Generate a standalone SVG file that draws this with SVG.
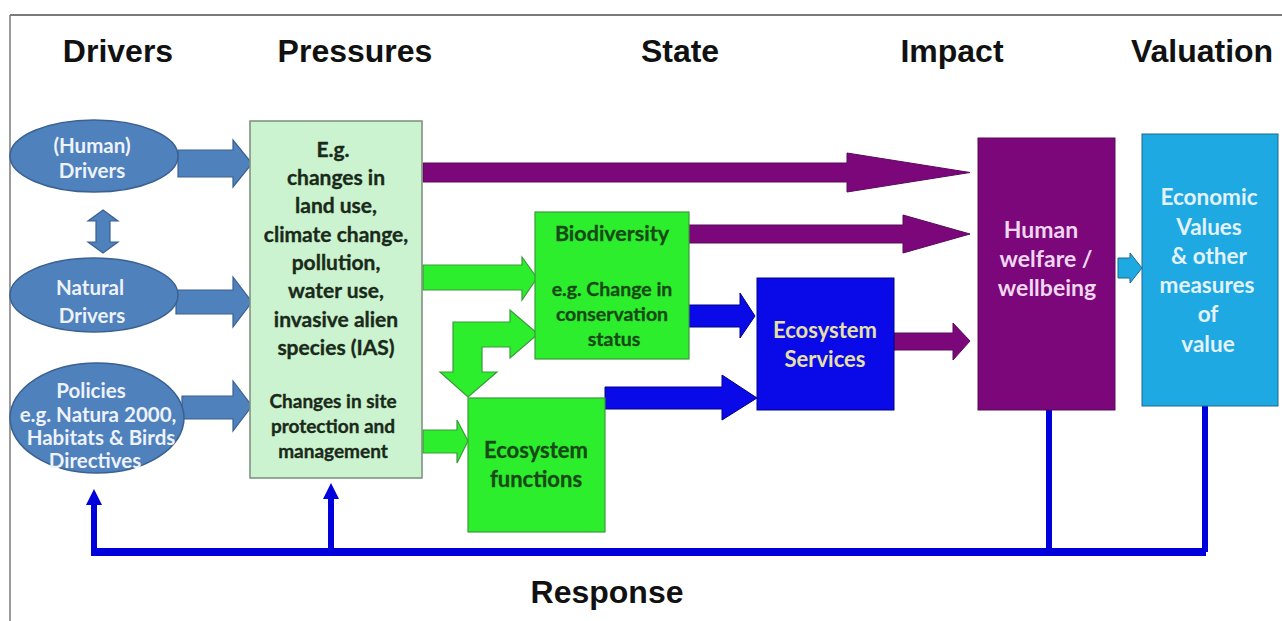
<svg xmlns="http://www.w3.org/2000/svg" width="1282" height="621" viewBox="0 0 1282 621">
<style>
.hdr{font-family:"Liberation Sans",Arial,sans-serif;font-weight:bold;font-size:32px;fill:#111;text-anchor:middle}
.t{font-family:Lato,"Open Sans",sans-serif;font-weight:bold;text-anchor:middle}
.ell{fill:#4f81bd;stroke:#3a6190;stroke-width:1.5}
.ellt{fill:#eef2fa;font-size:20.5px}
.barr{fill:#4f81bd;stroke:#3a6190;stroke-width:1.2}
.press{fill:#ccf3cf;stroke:#7a8f7a;stroke-width:1.5}
.prt{fill:#1a2a1a;stroke:#1a2a1a;stroke-width:0.35}
.green{fill:#2dee2d;stroke:#3a9a3a;stroke-width:1.2}
.gt{fill:#174a17;stroke:#174a17;stroke-width:0.3}
.purple{fill:#7b077b;stroke:#5a0a5a;stroke-width:1}
.dblue{fill:#0a0ae8;stroke:#00008a;stroke-width:1}
.cyan{fill:#1ea9e2;stroke:#1a6a8a;stroke-width:1}
.resp{stroke:#0000dd;fill:none}
</style>
<rect width="1282" height="621" fill="#fff"/>
<g id="frame">
<line x1="10" y1="15" x2="1282" y2="15" stroke="#7a7a7a" stroke-width="2"/>
<line x1="10" y1="15" x2="10" y2="621" stroke="#7a7a7a" stroke-width="1.5"/>
</g>
<g id="headers">
<text class="hdr" x="118" y="62">Drivers</text>
<text class="hdr" x="355" y="62">Pressures</text>
<text class="hdr" x="680" y="62">State</text>
<text class="hdr" x="952" y="62">Impact</text>
<text class="hdr" x="1202" y="62" font-size="31">Valuation</text>
<text class="hdr" x="607" y="603">Response</text>
</g>
<g id="connectors">
<polygon class="barr" points="103,210 118,221 110,221 110,242 118,242 103,253 88,242 96,242 96,221 88,221"/>
<polygon class="barr" points="178,150 233,150 233,140 252,163.5 233,187 233,177 178,177"/>
<polygon class="barr" points="176,290 233,290 233,277 252,302 233,327 233,314 176,314"/>
<polygon class="barr" points="182,396 233,396 233,381 252,406 233,431 233,419 182,419"/>
<polygon class="purple" points="423,163 847,163 847,153 970,172.5 847,192 847,182 423,182"/>
<polygon class="purple" points="689,225 903,225 903,215 970,234 903,253 903,243 689,243"/>
<polygon class="purple" points="894,333 953,333 953,323 970,341 953,360 953,350 894,350"/>
<polygon class="green" points="423,265 522,265 522,257 537,278 522,300 522,290 423,290"/>
<polygon class="green" points="423,430 457,430 457,420 468,441 457,463 457,453 423,453"/>
<polygon class="green" points="538,334 510,310 510,322 453,322 453,372 440,372 468,397 497,372 482,372 482,347 510,347 510,358"/>
<polygon class="dblue" points="689,305 740,305 740,293 755,316 740,338 740,327 689,327"/>
<polygon class="dblue" points="605,387 722,387 722,375 757,398 722,420 722,409 605,409"/>
<polygon class="cyan" points="1118,258 1130,258 1130,253 1142,268 1130,283 1130,278 1118,278"/>
<g id="response">
<path class="resp" stroke-width="8" d="M94,552 H1206"/>
<path class="resp" stroke-width="6" d="M1049,410 V552 M1205,406 V552 M94,556 V500 M331,552 V496"/>
<polygon points="94,489 86,505 102,505" fill="#0000dd"/>
<polygon points="331,483 323,499 339,499" fill="#0000dd"/>
</g>
</g>
<g id="human-drivers">
<ellipse class="ell" cx="94" cy="156" rx="84" ry="36"/>
<text class="t ellt" x="92" y="153">(Human)</text>
<text class="t ellt" x="92" y="178">Drivers</text>
</g>
<g id="natural-drivers">
<ellipse class="ell" cx="94" cy="295" rx="84" ry="37"/>
<text class="t ellt" x="90" y="295">Natural</text>
<text class="t ellt" x="92" y="323">Drivers</text>
</g>
<g id="policies">
<ellipse class="ell" cx="97" cy="418" rx="87" ry="55"/>
<text class="t ellt" x="91" y="398" font-size="19.5">Policies</text>
<text class="t ellt" x="98" y="422" font-size="18">e.g. Natura 2000,</text>
<text class="t ellt" x="101" y="445" font-size="18">Habitats &amp; Birds</text>
<text class="t ellt" x="95" y="468" font-size="18">Directives</text>
</g>
<g id="pressures">
<rect class="press" x="250" y="121" width="172" height="357"/>
<g class="t prt" font-size="21">
<text x="333" y="157">E.g.</text>
<text x="336" y="185">changes in</text>
<text x="336" y="213">land use,</text>
<text x="336" y="242">climate change,</text>
<text x="336" y="270">pollution,</text>
<text x="336" y="298">water use,</text>
<text x="336" y="327">invasive alien</text>
<text x="336" y="355">species (IAS)</text>
</g>
<g class="t prt" font-size="19">
<text x="333" y="408">Changes in site</text>
<text x="333" y="433">protection and</text>
<text x="333" y="458">management</text>
</g>
</g>
<g id="biodiversity">
<rect class="green" x="535" y="212" width="154" height="147"/>
<text class="t gt" x="612" y="241" font-size="21.5">Biodiversity</text>
<text class="t gt" x="612" y="296" font-size="19.5">e.g. Change in</text>
<text class="t gt" x="612" y="321" font-size="19.5">conservation</text>
<text class="t gt" x="614" y="346" font-size="19.5">status</text>
</g>
<g id="ecosystem-functions">
<rect class="green" x="468" y="398" width="137" height="134"/>
<text class="t gt" x="536" y="458" font-size="22">Ecosystem</text>
<text class="t gt" x="536" y="487" font-size="22">functions</text>
</g>
<g id="ecosystem-services">
<rect class="dblue" x="757" y="278" width="137" height="132"/>
<text class="t" x="825" y="338" font-size="22" fill="#e6e0a6">Ecosystem</text>
<text class="t" x="825" y="367" font-size="22" fill="#e6e0a6">Services</text>
</g>
<g id="human-welfare">
<rect class="purple" x="978" y="138" width="137" height="272"/>
<text class="t" x="1041" y="238" font-size="23" fill="#f0d6ef">Human</text>
<text class="t" x="1046" y="267" font-size="23" fill="#f0d6ef">welfare /</text>
<text class="t" x="1047" y="296" font-size="23" fill="#f0d6ef">wellbeing</text>
</g>
<g id="valuation">
<rect class="cyan" x="1142" y="134" width="136" height="272"/>
<g class="t" font-size="22.5" fill="#e4f2fb">
<text x="1209" y="205">Economic</text>
<text x="1209" y="235">Values</text>
<text x="1209" y="264">&amp; other</text>
<text x="1207" y="293">measures</text>
<text x="1208" y="322">of</text>
<text x="1208" y="352">value</text>
</g>
</g>
</svg>
